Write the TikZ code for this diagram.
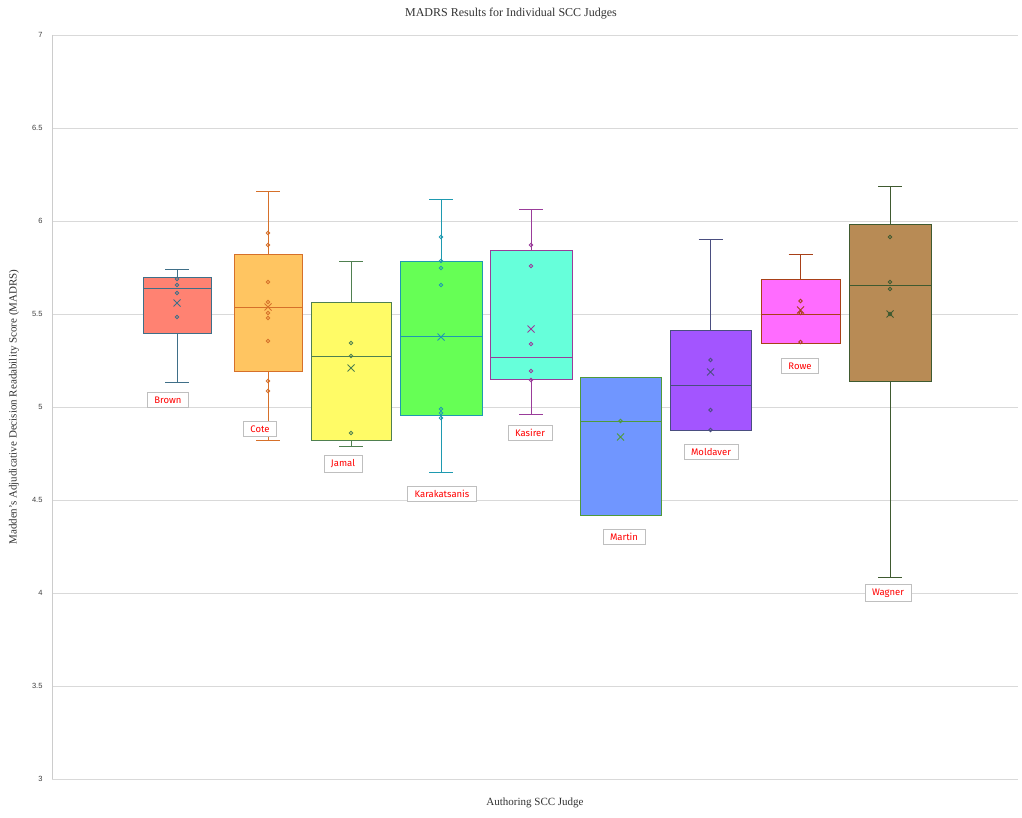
\documentclass[tikz,border=0pt]{standalone}
\usepackage{fontspec}
\setmainfont{Liberation Serif}
\newfontfamily\tickf{Liberation Sans}
\newfontfamily\labf{Fira Sans}
\begin{document}
\begin{tikzpicture}[x=1pt,y=-1pt,
  grid/.style={draw=black!15,line width=0.7pt},
  lab/.style={draw=black!25,fill=white,text=red,font=\labf\fontsize{9.5}{11}\selectfont,inner xsep=7pt,inner ysep=4pt,line width=0.8pt},
  tick/.style={font=\tickf\fontsize{7.5}{9}\selectfont,text=black!75,anchor=east}]
\useasboundingbox (0,0) rectangle (1022,818);
\fill[white] (0,0) rectangle (1022,818);
\foreach \v/\p in {7/35,6.5/128,6/221,5.5/314,5/407,4.5/500,4/593,3.5/686,3/779}{
  \draw[grid] (52,\p) -- (1018,\p);
  \node[tick] at (46,\p) {\v};
}
\draw[black!20,line width=0.7pt] (52,35) -- (52,779);
\node[font=\fontsize{12}{14}\selectfont,text=black!80] at (511,14) {MADRS Results for Individual SCC Judges};
\node[font=\fontsize{11}{13}\selectfont,text=black!80] at (535,803) {Authoring SCC Judge};
\node[font=\fontsize{11}{13}\selectfont,text=black!80,rotate=90] at (14,407) {Madden's Adjudicative Decision Readability Score (MADRS)};
% #1 x1 #2 x2 #3 top #4 bot #5 med #6 wtop #7 wbot #8 mean #9 fill #10 line #11 points
\newcommand\bxp[9]{\def\bA{#1}\def\bB{#2}\def\bT{#3}\def\bBo{#4}\def\bM{#5}\def\bWt{#6}\def\bWb{#7}\def\bMe{#8}\def\bF{#9}\bxpcont}
\newcommand\bxpcont[2]{%
  \pgfmathsetmacro\cx{(\bA+\bB)/2}
  \draw[#1,line width=1pt] (\cx,\bWt) -- (\cx,\bT) (\cx,\bBo) -- (\cx,\bWb);
  \draw[#1,line width=1pt] (\cx-12,\bWt) -- (\cx+12,\bWt) (\cx-12,\bWb) -- (\cx+12,\bWb);
  \filldraw[fill=\bF,draw=#1,line width=1pt] (\bA,\bT) rectangle (\bB,\bBo);
  \draw[#1,line width=1pt] (\bA,\bM) -- (\bB,\bM);
  \foreach \q in {#2}{\draw[#1,line width=0.9pt] (\cx,\q) circle (1.8pt);}
  \draw[#1,line width=1pt] (\cx-3.5,\bMe-3.5) -- (\cx+3.5,\bMe+3.5) (\cx-3.5,\bMe+3.5) -- (\cx+3.5,\bMe-3.5);
}
\definecolor{c1}{HTML}{FF8272}\definecolor{l1}{HTML}{3F6F88}
\definecolor{c2}{HTML}{FFC561}\definecolor{l2}{HTML}{D6702A}
\definecolor{c3}{HTML}{FFFB66}\definecolor{l3}{HTML}{4F8050}
\definecolor{c4}{HTML}{66FF55}\definecolor{l4}{HTML}{1E9AB0}
\definecolor{c5}{HTML}{66FFDA}\definecolor{l5}{HTML}{9A3C9A}
\definecolor{c6}{HTML}{7096FF}\definecolor{l6}{HTML}{4F9A3A}
\definecolor{c7}{HTML}{A355FF}\definecolor{l7}{HTML}{4A4E80}
\definecolor{c8}{HTML}{FF6CFF}\definecolor{l8}{HTML}{A84018}
\definecolor{c9}{HTML}{B88B55}\definecolor{l9}{HTML}{3F5A30}
\bxp{143}{211}{277}{333}{288}{270}{382}{303}{c1}{l1}{279,285,293,317}
\bxp{234}{302}{255}{371}{307}{192}{440}{307}{c2}{l2}{233,245,282,302,313,318,341,381,391}
\bxp{311}{391}{302}{440}{356}{262}{446}{368}{c3}{l3}{343,356,433}
\bxp{400}{482}{262}{415}{336}{200}{472}{337}{c4}{l4}{237,261,268,285,409,413,418}
\bxp{490}{572}{251}{379}{357}{210}{414}{329}{c5}{l5}{245,266,344,371,380}
\bxp{580}{661}{377}{515}{421}{377}{377}{437}{c6}{l6}{421}
\bxp{670}{751}{330}{430}{385}{240}{430}{372}{c7}{l7}{360,410,430}
\bxp{761}{840}{279}{343}{314}{255}{343}{310}{c8}{l8}{301,313,342}
\bxp{849}{931}{225}{381}{285}{187}{577}{314}{c9}{l9}{237,282,289,314}
\node[lab] (b1) at (168,400) {Brown};
\node[lab] (b2) at (260,429) {Cote};
\node[lab] (b3) at (343,464) {Jamal};
\node[lab] (b4) at (442,494) {Karakatsanis};
\node[lab] (b5) at (530,433) {Kasirer};
\node[lab] (b6) at (624,537) {Martin};
\node[lab] (b7) at (711,452) {Moldaver};
\node[lab] (b8) at (800,366) {Rowe};
\node[lab] (b9) at (888,593) {Wagner};
\end{tikzpicture}
\end{document}
